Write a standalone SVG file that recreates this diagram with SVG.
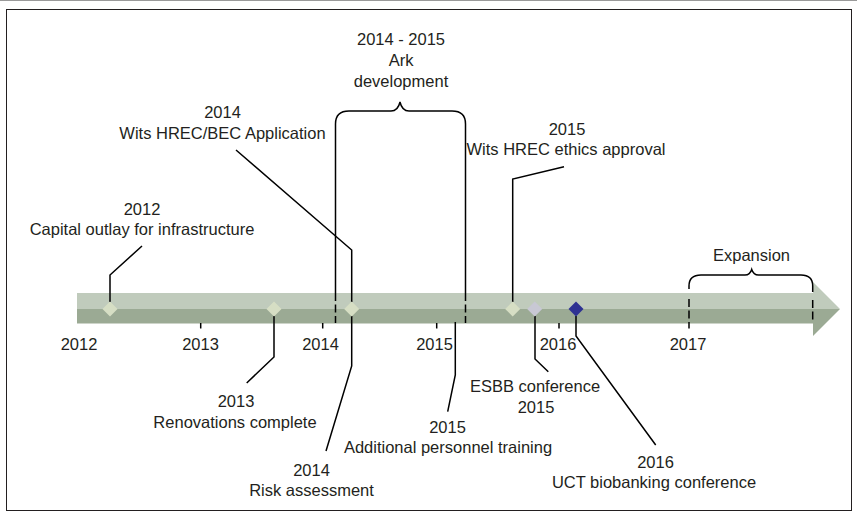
<svg xmlns="http://www.w3.org/2000/svg" width="857" height="517" viewBox="0 0 857 517">
<style>
text{font-family:"Liberation Sans",Arial,sans-serif;font-size:16.5px;fill:#231f20;text-anchor:middle}
.ln{fill:none;stroke:#000;stroke-width:1.5}
.dash{fill:none;stroke:#000;stroke-width:1.5;stroke-dasharray:8,3.5}
.tick{stroke:#000;stroke-width:1.5}
.dg{fill:#d6dec4}
</style>
<rect x="0" y="0" width="857" height="517" fill="#fff"/>
<line x1="0" y1="0.5" x2="857" y2="0.5" stroke="#9a9a9a" stroke-width="1"/>
<rect x="6.5" y="9.5" width="845" height="501" fill="none" stroke="#231f20" stroke-width="1"/>
<g id="timeline">
<rect x="77" y="293" width="736" height="16" fill="#c0cbbc"/>
<rect x="77" y="309" width="736" height="14.5" fill="#9baa94"/>
<polygon points="813,282 840,309 813,309" fill="#c0cbbc"/>
<polygon points="813,309 840,309 813,336" fill="#9baa94"/>
<line class="tick" x1="200.7" y1="323" x2="200.7" y2="328.5"/>
<line class="tick" x1="322.7" y1="323" x2="322.7" y2="328.5"/>
<line class="tick" x1="436.7" y1="323" x2="436.7" y2="328.5"/>
<line class="tick" x1="559" y1="323" x2="559" y2="328.5"/>
<g id="years">
<text x="79" y="349.5">2012</text>
<text x="200.5" y="349.5">2013</text>
<text x="320.5" y="349.5">2014</text>
<text x="434.5" y="349.5">2015</text>
<text x="558" y="349.5">2016</text>
<text x="688" y="349.5">2017</text>
</g>
</g>
<g id="ark">
<path class="ln" d="M335.5,293 V124 Q335.5,111 349,111 H391 Q398,111 400,102 Q402,111 409,111 H452 Q465.5,111 465.5,124 V293"/>
<line class="dash" x1="335.5" y1="293" x2="335.5" y2="323"/>
<line class="dash" x1="465.5" y1="293" x2="465.5" y2="323"/>
<text x="401" y="45">2014 - 2015</text>
<text x="401" y="66">Ark</text>
<text x="401" y="87">development</text>
</g>
<g id="expansion">
<path class="ln" d="M689,289 V286 Q689,275 701,275 H745 Q750,275 751.7,269.5 Q753.5,275 758.5,275 H801 Q812.7,275 812.7,286 V292"/>
<line class="dash" x1="689" y1="299" x2="689" y2="328.5"/>
<line class="dash" x1="812.7" y1="300" x2="812.7" y2="323"/>
<text x="751.5" y="261">Expansion</text>
</g>
<g id="connectors">
<path class="ln" d="M110,302 V275 L142,246"/>
<path class="ln" d="M274,316 V357 L246.7,383"/>
<path class="ln" d="M236,150 L351.7,250 V302"/>
<path class="ln" d="M351.7,316 V366 L326,451"/>
<path class="ln" d="M455.3,322 V375 L447.7,411.7"/>
<path class="ln" d="M512.7,302 V179 L564,166.7"/>
<path class="ln" d="M535,316 V359 L548.3,371.7"/>
<path class="ln" d="M576,316 V336 L655.7,445"/>
</g>
<g id="ev2012">
<polygon class="dg" points="110,301.5 117.5,309 110,316.5 102.5,309"/>
<text x="142" y="215">2012</text>
<text x="142" y="235">Capital outlay for infrastructure</text>
</g>
<g id="ev2013">
<polygon class="dg" points="274,301.5 281.5,309 274,316.5 266.5,309"/>
<text x="236" y="407">2013</text>
<text x="235" y="428">Renovations complete</text>
</g>
<g id="ev2014app">
<polygon class="dg" points="351.7,301.5 359.2,309 351.7,316.5 344.2,309"/>
<text x="222.5" y="118">2014</text>
<text x="222.5" y="138.5">Wits HREC/BEC Application</text>
</g>
<g id="ev2014risk">
<text x="311.5" y="475.7">2014</text>
<text x="311.5" y="496">Risk assessment</text>
</g>
<g id="ev2015training">
<text x="447.5" y="432.7">2015</text>
<text x="448" y="452.7">Additional personnel training</text>
</g>
<g id="ev2015ethics">
<polygon class="dg" points="512.7,301.5 520.2,309 512.7,316.5 505.2,309"/>
<text x="567" y="134.5">2015</text>
<text x="566" y="155">Wits HREC ethics approval</text>
</g>
<g id="ev2015esbb">
<polygon fill="#c8c8d4" points="534.7,301.5 542.2,309 534.7,316.5 527.2,309"/>
<text x="535" y="392">ESBB conference</text>
<text x="536" y="412.5">2015</text>
</g>
<g id="ev2016uct">
<polygon fill="#2e3192" points="576,301.5 583.5,309 576,316.5 568.5,309"/>
<text x="655.5" y="468.3">2016</text>
<text x="654" y="488">UCT biobanking conference</text>
</g>
</svg>
